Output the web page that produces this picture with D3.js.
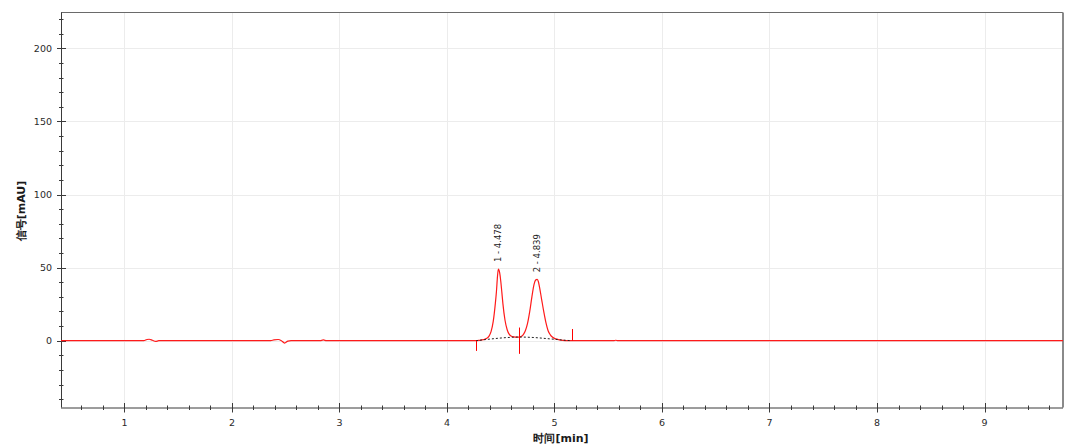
<!DOCTYPE html>
<html>
<head>
<meta charset="utf-8">
<script src="https://cdn.jsdelivr.net/npm/d3@7"></script>
<style>
html,body{margin:0;padding:0;background:#fff;}
svg{display:block;}
text{font-family:"DejaVu Sans",sans-serif;}
</style>
</head>
<body>
<svg id="chart" width="1080" height="444"></svg>
<script>
// ---- data ----
const timeMin = [0.41, 1.18, 1.21, 1.23, 1.26, 1.29, 1.32, 2.36, 2.39, 2.43, 2.46, 2.49, 2.52, 2.55, 2.82, 2.85, 2.88,
  4.27, 4.30, 4.34, 4.37, 4.39, 4.41, 4.43, 4.45, 4.46, 4.47, 4.478, 4.49, 4.50, 4.51, 4.52, 4.54, 4.56, 4.58, 4.60, 4.62, 4.65, 4.67,
  4.69, 4.71, 4.73, 4.75, 4.77, 4.79, 4.81, 4.825, 4.839, 4.85, 4.86, 4.88, 4.90, 4.92, 4.94, 4.96, 4.98, 5.00, 5.03, 5.06, 5.10, 5.15,
  5.55, 5.57, 5.59, 9.73];
const signal = [0, 0, 0.8, 1.0, 0.3, -0.5, 0, 0, 0.5, 0.8, 0, -1.6, -0.3, 0, 0, 0.5, 0,
  0, 0.2, 0.7, 1.6, 3.0, 6.2, 13, 25.5, 33.5, 44, 49, 46.5, 41, 33.5, 25.5, 14, 7.5, 4.3, 3.0, 2.6, 2.4, 2.5,
  2.9, 4.2, 7, 12, 20, 30, 38.5, 41.5, 42, 40.5, 37, 28.5, 20, 12.5, 7, 4.2, 2.5, 1.6, 0.9, 0.4, 0.1, 0,
  0, 0.3, 0, 0];
const baseTime = [4.27, 4.40, 4.55, 4.67, 4.80, 4.95, 5.10, 5.16];
const baseValue = [0, 1.1, 2.1, 2.5, 2.2, 1.3, 0.3, 0];
const markerTime = [4.27, 4.67, 5.165];
const markerTop = [0, 9, 8];
const markerBottom = [-7, -9, 0];
const peakTime = [4.478, 4.839];
const peakHeight = [49, 42];
const peakLabel = ["1 - 4.478", "2 - 4.839"];
const xTicks = [1, 2, 3, 4, 5, 6, 7, 8, 9];
const yTicks = [0, 50, 100, 150, 200];
const xTitle = "时间[min]";
const yTitle = "信号[mAU]";

// ---- layout ----
const L = 61, R = 1063, T = 12.5, B = 407.5;
const svg = d3.select("#chart");
const x = d3.scaleLinear().domain([0.41, 9.73]).range([L, R]);
const y = d3.scaleLinear().domain([-45.7, 224.5]).range([B, T]);

// grid
svg.append("g").selectAll("line").data(xTicks).join("line")
  .attr("x1", d => Math.round(x(d)) + 0.5).attr("x2", d => Math.round(x(d)) + 0.5)
  .attr("y1", T).attr("y2", B).attr("stroke", "#ececec").attr("stroke-width", 1);
svg.append("g").selectAll("line").data(yTicks).join("line")
  .attr("x1", L).attr("x2", R)
  .attr("y1", d => Math.round(y(d)) + 0.5).attr("y2", d => Math.round(y(d)) + 0.5)
  .attr("stroke", "#ececec").attr("stroke-width", 1);

// frame top/right
svg.append("line").attr("x1", L).attr("x2", R).attr("y1", T).attr("y2", T).attr("stroke", "#6a6a6a").attr("stroke-width", 1);
svg.append("line").attr("x1", R).attr("x2", R).attr("y1", T).attr("y2", B).attr("stroke", "#8a8a8a").attr("stroke-width", 2);

// minor ticks
const xMinor = d3.range(0.6, 9.73, 0.2).filter(v => Math.abs(v - Math.round(v)) > 0.01);
const yMinor = d3.range(-40, 225, 10).filter(v => v % 50 !== 0);

const axisColor = "#3a3a3a";
const gx = svg.append("g");
gx.append("line").attr("x1", L).attr("x2", R).attr("y1", B + 0.5).attr("y2", B + 0.5).attr("stroke", axisColor);
gx.selectAll("line.maj").data(xTicks).join("line").attr("class", "maj")
  .attr("x1", d => Math.round(x(d)) + 0.5).attr("x2", d => Math.round(x(d)) + 0.5)
  .attr("y1", B - 4.5).attr("y2", B + 5).attr("stroke", axisColor);
gx.selectAll("line.min").data(xMinor).join("line").attr("class", "min")
  .attr("x1", d => Math.round(x(d)) + 0.5).attr("x2", d => Math.round(x(d)) + 0.5)
  .attr("y1", B - 2).attr("y2", B + 2.5).attr("stroke", axisColor);
gx.selectAll("text").data(xTicks).join("text")
  .attr("x", d => x(d)).attr("y", 426).attr("text-anchor", "middle")
  .attr("font-size", "9.5px").attr("fill", "#2a2a2a").text(d => d);

const gy = svg.append("g");
gy.append("line").attr("x1", L + 0.5).attr("x2", L + 0.5).attr("y1", T).attr("y2", B).attr("stroke", axisColor);
gy.selectAll("line.maj").data(yTicks).join("line").attr("class", "maj")
  .attr("x1", L - 4).attr("x2", L + 5)
  .attr("y1", d => Math.round(y(d)) + 0.5).attr("y2", d => Math.round(y(d)) + 0.5).attr("stroke", axisColor);
gy.selectAll("line.min").data(yMinor).join("line").attr("class", "min")
  .attr("x1", L - 2).attr("x2", L + 2.5)
  .attr("y1", d => Math.round(y(d)) + 0.5).attr("y2", d => Math.round(y(d)) + 0.5).attr("stroke", axisColor);
gy.selectAll("text").data(yTicks).join("text")
  .attr("x", 52).attr("y", d => y(d) + 3.5).attr("text-anchor", "end")
  .attr("font-size", "9.5px").attr("fill", "#2a2a2a").text(d => d);

// titles
svg.append("text").attr("x", 561).attr("y", 442).attr("text-anchor", "middle")
  .attr("font-size", "11px").attr("font-weight", "bold").attr("fill", "#1a1a1a").text(xTitle);
svg.append("text").attr("transform", "translate(25,211) rotate(-90)").attr("text-anchor", "middle")
  .attr("font-size", "11px").attr("font-weight", "bold").attr("fill", "#1a1a1a").text(yTitle);

// chromatogram
const pts = timeMin.map((t, i) => [t, signal[i]]);
svg.append("path").datum(pts)
  .attr("d", d3.line().x(d => x(d[0])).y(d => y(d[1])).curve(d3.curveMonotoneX))
  .attr("fill", "none").attr("stroke", "#ff1a1a").attr("stroke-width", 1.2);

// integration baseline
const bpts = baseTime.map((t, i) => [t, baseValue[i]]);
svg.append("path").datum(bpts)
  .attr("d", d3.line().x(d => x(d[0])).y(d => y(d[1])).curve(d3.curveMonotoneX))
  .attr("fill", "none").attr("stroke", "#222").attr("stroke-width", 1).attr("stroke-dasharray", "2,2");

// markers
svg.append("g").selectAll("line").data(markerTime).join("line")
  .attr("x1", d => Math.round(x(d)) + 0.5).attr("x2", d => Math.round(x(d)) + 0.5)
  .attr("y1", (d, i) => y(markerTop[i])).attr("y2", (d, i) => y(markerBottom[i]))
  .attr("stroke", "#ff0000").attr("stroke-width", 1);

// peak labels
svg.append("g").selectAll("text").data(peakTime).join("text")
  .attr("transform", (d, i) => `translate(${x(d) + 3},${y(peakHeight[i]) - 7}) rotate(-90)`)
  .attr("text-anchor", "start").attr("font-size", "8.5px").attr("fill", "#222")
  .text((d, i) => peakLabel[i]);
</script>
</body>
</html>
